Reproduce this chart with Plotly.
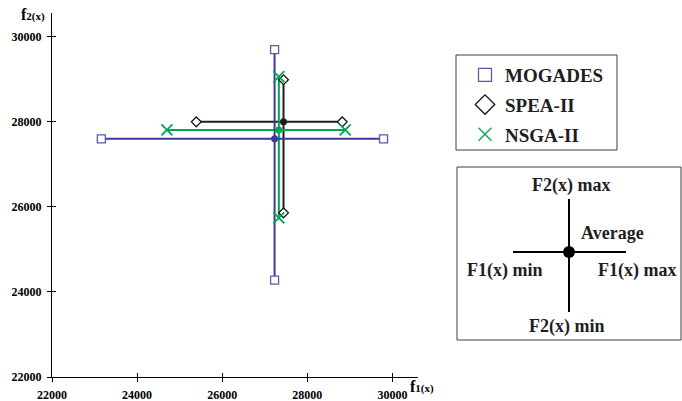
import plotly.graph_objects as go

# ---- data ----
algorithms = ["MOGADES", "SPEA-II", "NSGA-II"]
f1_min = [23160, 25390, 24700]
f1_max = [29790, 28820, 28890]
f1_avg = [27230, 27440, 27330]
f2_min = [24280, 25860, 25740]
f2_max = [29700, 28990, 29066]
f2_avg = [27600, 28000, 27810]

x_ticks = [22000, 24000, 26000, 28000, 30000]
y_ticks = [22000, 24000, 26000, 28000, 30000]

# ---- styles ----
line_colors = ["rgb(58,58,156)", "rgb(30,30,30)", "rgb(0,166,81)"]
mark_colors = ["rgb(90,90,175)", "rgb(20,20,20)", "rgb(0,166,81)"]
symbols = ["square", "diamond", "x-thin"]
sizes = [8, 7.5, 11]
leg_symbols = ["square-open", "diamond-open", "x-thin-open"]
leg_sizes = [13, 15, 13]

FONT = "Liberation Serif"

fig = go.Figure()

draw_order = [1, 2, 0]
for i in draw_order:
    fig.add_trace(go.Scatter(
        x=[f1_min[i], f1_max[i], None, f1_avg[i], f1_avg[i]],
        y=[f2_avg[i], f2_avg[i], None, f2_min[i], f2_max[i]],
        mode="lines", line=dict(color=line_colors[i], width=2),
        showlegend=False, hoverinfo="skip"))

for i in draw_order:
    is_x = symbols[i] == "x-thin"
    fig.add_trace(go.Scatter(
        x=[f1_min[i], f1_max[i], f1_avg[i], f1_avg[i]],
        y=[f2_avg[i], f2_avg[i], f2_min[i], f2_max[i]],
        mode="markers",
        marker=dict(symbol=symbols[i], size=sizes[i],
                    color="white" if not is_x else mark_colors[i],
                    line=dict(color=mark_colors[i], width=1.8 if is_x else 1.3)),
        showlegend=False))
    fig.add_trace(go.Scatter(
        x=[f1_avg[i]], y=[f2_avg[i]], mode="markers",
        marker=dict(symbol="circle", size=7, color=line_colors[i]),
        showlegend=False))

for i in range(3):
    fig.add_trace(go.Scatter(
        x=[None], y=[None], mode="markers", name=algorithms[i],
        legendgroup=algorithms[i],
        marker=dict(symbol=leg_symbols[i], size=leg_sizes[i],
                    color=mark_colors[i], line=dict(color=mark_colors[i], width=1.3))))

# plot area in pixels: x 52..418, y 13..377
L, R, T, B = 52, 418, 13, 377
W, H = R - L, B - T
def px(x):
    return (x - L) / W
def py(y):
    return (B - y) / H

axis_common = dict(showline=True, linecolor="black", linewidth=1, showgrid=False,
                   zeroline=False, ticks="outside", ticklen=4, tickcolor="black",
                   ticklabelstandoff=3, automargin=False, tickformat="d",
                   tickfont=dict(family=FONT, size=12, color="black", weight="bold"))
overlay_common = dict(ticks="inside", ticklen=4, tickcolor="black",
                      showticklabels=False, showline=False, showgrid=False,
                      zeroline=False, automargin=False)

fig.update_layout(
    width=682, height=401,
    margin=dict(l=L, r=682 - R, t=T, b=401 - B, autoexpand=False),
    paper_bgcolor="white", plot_bgcolor="white",
    font=dict(family=FONT, color="black"),
    hovermode=False,
    xaxis=dict(range=[22000, 30600], tickvals=x_ticks, **axis_common),
    yaxis=dict(range=[22000, 30560], tickvals=y_ticks, **axis_common),
    xaxis2=dict(overlaying="x", matches="x", anchor="y", side="bottom",
                range=[22000, 30600], tickvals=x_ticks, **overlay_common),
    yaxis2=dict(overlaying="y", matches="y", anchor="x", side="left",
                range=[22000, 30560], tickvals=y_ticks, **overlay_common),
    legend=dict(x=px(465), y=py(56), xanchor="left", yanchor="top",
                bgcolor="rgba(0,0,0,0)", borderwidth=0, tracegroupgap=2,
                font=dict(family=FONT, size=19, color="rgb(30,30,30)", weight="bold")),
    showlegend=True,
)

# dummy trace to activate the overlay axes
fig.add_trace(go.Scatter(x=[None], y=[None], xaxis="x2", yaxis="y2",
                         showlegend=False, hoverinfo="skip"))

shapes = []
shapes.append(dict(type="rect", xref="paper", yref="paper",
                   x0=px(456), x1=px(617), y0=py(150), y1=py(55),
                   line=dict(color="rgb(60,60,60)", width=1)))
shapes.append(dict(type="rect", xref="paper", yref="paper",
                   x0=px(457), x1=px(681), y0=py(340), y1=py(167),
                   line=dict(color="rgb(60,60,60)", width=1)))
shapes.append(dict(type="line", xref="paper", yref="paper",
                   x0=px(569), x1=px(569), y0=py(312), y1=py(199),
                   line=dict(color="black", width=2)))
shapes.append(dict(type="line", xref="paper", yref="paper",
                   x0=px(513), x1=px(626), y0=py(252), y1=py(252),
                   line=dict(color="black", width=2)))
shapes.append(dict(type="circle", xref="paper", yref="paper",
                   x0=px(563), x1=px(575), y0=py(258), y1=py(246),
                   fillcolor="black", line=dict(color="black", width=0)))
fig.update_layout(shapes=shapes)

key_font = dict(family=FONT, size=18, color="rgb(30,30,30)", weight="bold")
key_texts = [("F2(x) max", 571, 185), ("Average", 612, 233),
             ("F1(x) min", 505, 270), ("F1(x) max", 637, 270),
             ("F2(x) min", 567, 326)]
for t, x, y in key_texts:
    fig.add_annotation(text=t, xref="paper", yref="paper",
                       x=px(x), y=py(y), xanchor="center", yanchor="middle",
                       showarrow=False, font=key_font)

fig.add_annotation(text="f<span style='font-size:11px'>2(x)</span>",
                   xref="paper", yref="paper", x=px(33), y=py(15),
                   xanchor="center", yanchor="middle", showarrow=False,
                   font=dict(family=FONT, size=16, color="black", weight="bold"))
fig.add_annotation(text="f<span style='font-size:11px'>1(x)</span>",
                   xref="paper", yref="paper", x=px(422), y=py(387),
                   xanchor="center", yanchor="middle", showarrow=False,
                   font=dict(family=FONT, size=16, color="black", weight="bold"))

css = ("var s=document.createElement('style');"
       "s.textContent='html,body{margin:0;padding:0;overflow:hidden;}';"
       "document.head.appendChild(s);")
fig.write_html("out.html", config={"displayModeBar": False}, post_script=css)
